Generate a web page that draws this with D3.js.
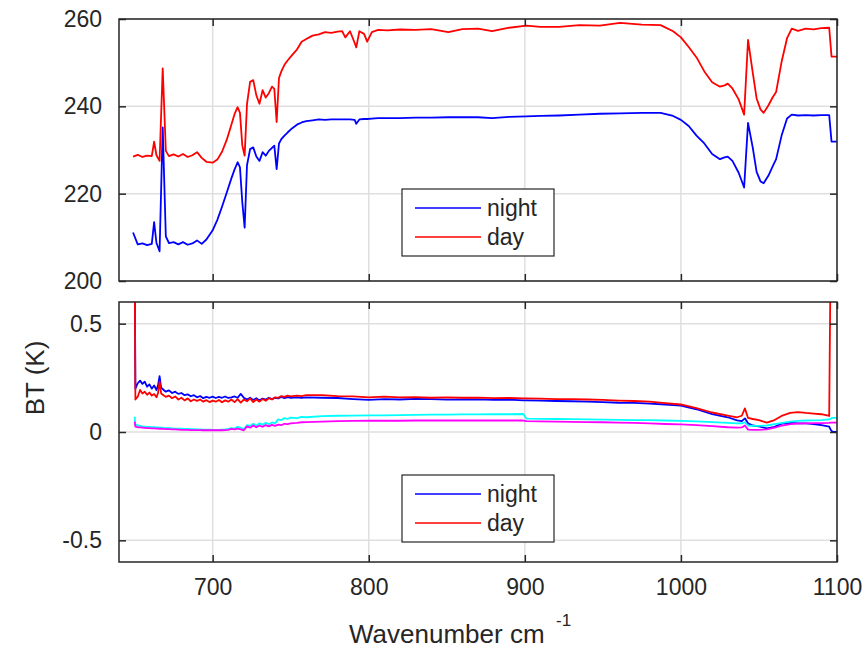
<!DOCTYPE html>
<html>
<head>
<meta charset="utf-8">
<script src="https://cdn.jsdelivr.net/npm/d3@7"></script>
<style>
  body { margin: 0; background: #fff; }
  text { font-family: "Liberation Sans", Arial, sans-serif; fill: #262626; }
</style>
</head>
<body>
<div id="chart"></div>
<script>
// wavenumbers for the brightness temperature panel
const topWn = [649, 652, 655, 658, 661, 662.5, 664, 666, 668, 670, 672, 675, 678, 681, 684, 687, 690, 693, 696, 700,
  703, 706, 709, 712, 714, 716, 717.5, 719, 720.5, 722, 724, 726, 728, 730, 732, 734, 736, 738, 739.5, 741,
  742.5, 744, 746, 748, 751, 754, 757, 760, 764, 768, 772, 776, 780, 783, 785, 788, 791, 792, 794, 797,
  799, 802, 806, 812, 820, 830, 840, 851, 860, 870, 879, 890, 901, 910, 922, 935, 948, 961, 975, 987,
  995, 1000, 1005, 1010, 1015, 1020, 1025, 1028, 1030, 1033, 1037, 1040.5, 1043, 1046, 1048.5, 1051, 1053, 1056, 1059, 1061,
  1064.5, 1068, 1071, 1075, 1080, 1085, 1090, 1095, 1096.5, 1100];

const nightTop = [211.1, 208.4, 208.6, 208.2, 208.5, 213.5, 208.7, 206.8, 235.2, 210.2, 208.7, 208.9, 208.4, 208.9, 208.3, 208.6, 209.3, 208.5, 209.5, 211.6,
  214.0, 217.0, 220.2, 223.5, 225.5, 227.2, 226.0, 218.0, 212.2, 226.5, 230.2, 230.6, 228.5, 227.5, 229.5, 228.7, 229.8, 230.5, 231.0, 225.6,
  231.5, 232.5, 233.3, 234.0, 235.0, 235.8, 236.3, 236.6, 236.8, 237.0, 236.9, 237.0, 237.0, 237.0, 237.0, 237.0, 236.9, 236.0, 237.0, 237.1,
  237.1, 237.2, 237.3, 237.3, 237.3, 237.4, 237.4, 237.5, 237.5, 237.5, 237.3, 237.6, 237.7, 237.8, 237.9, 238.1, 238.3, 238.4, 238.5, 238.5,
  237.8, 236.9, 235.5, 233.3, 231.5, 229.1, 227.9, 228.3, 228.5, 227.5, 224.8, 221.4, 236.2, 230.6, 225.0, 222.8, 222.4, 224.1, 226.4, 227.9,
  233.3, 237.2, 238.1, 237.9, 238.0, 237.9, 238.0, 238.0, 231.9, 231.9];

const dayTop = [228.5, 228.9, 228.4, 228.7, 228.6, 231.9, 228.8, 227.5, 248.7, 229.8, 228.6, 229.0, 228.5, 229.1, 228.4, 228.8, 229.5, 228.2, 227.3, 227.1,
  227.8, 229.6, 232.3, 235.8, 238.2, 239.8, 238.5, 231.0, 228.7, 240.5, 245.6, 246.0, 242.5, 240.6, 243.7, 242.0, 243.0, 244.5, 244.0, 236.4,
  246.5, 248.0, 249.5, 250.5, 251.8, 253.0, 254.8, 255.4, 256.2, 256.5, 257.0, 256.8, 257.1, 257.2, 255.8, 257.2, 254.5, 253.5, 257.2, 256.6,
  254.8, 257.0, 257.5, 257.4, 257.6, 257.5, 257.7, 257.0, 257.7, 257.8, 257.2, 258.0, 258.5, 258.2, 258.2, 258.6, 258.5, 259.1, 258.7, 258.6,
  257.2, 255.8, 253.6, 251.2, 248.0, 245.5, 244.5, 244.8, 245.2, 244.1, 241.6, 238.1, 255.2, 247.8, 241.8, 239.3, 238.5, 240.2, 242.2, 243.3,
  250.2, 255.6, 257.8, 257.3, 257.8, 257.6, 257.9, 258.0, 251.4, 251.4];

// wavenumbers for the difference panel
const botWn = [650, 650.5, 652, 653.5, 655, 656.5, 658, 659.5, 661, 662.5, 664, 665, 666, 667, 668.5, 670, 672, 674, 676, 678,
  680, 682, 684, 686, 688, 690, 692, 694, 696, 698, 700, 702, 704, 706, 708, 710, 712, 714, 716, 718,
  720, 722, 724, 726, 728, 730, 732, 734, 736, 738, 740, 742, 744, 746, 748, 750, 754, 757, 760,
  770, 780, 790, 800, 810, 820, 830, 840, 850, 860, 870, 880, 890, 899, 901, 910, 920, 930, 940, 950,
  960, 970, 980, 990, 1000, 1010, 1020, 1030, 1036, 1039, 1041, 1043, 1046, 1050, 1055, 1060, 1065, 1070, 1075, 1080,
  1085, 1090, 1095, 1096, 1097, 1099, 1100];

const nightBot = [0.9, 0.20, 0.225, 0.237, 0.222, 0.232, 0.209, 0.220, 0.200, 0.215, 0.194, 0.215, 0.258, 0.205, 0.195, 0.186, 0.192, 0.180, 0.186, 0.176,
  0.180, 0.170, 0.174, 0.165, 0.170, 0.160, 0.166, 0.156, 0.162, 0.158, 0.163, 0.157, 0.162, 0.158, 0.164, 0.157, 0.160, 0.164, 0.158, 0.176,
  0.158, 0.150, 0.158, 0.148, 0.156, 0.146, 0.154, 0.150, 0.158, 0.152, 0.158, 0.155, 0.162, 0.156, 0.161, 0.158, 0.160, 0.157, 0.160,
  0.158, 0.157, 0.152, 0.148, 0.152, 0.150, 0.153, 0.152, 0.149, 0.150, 0.151, 0.148, 0.149, 0.146, 0.146, 0.145, 0.143, 0.142, 0.140, 0.138,
  0.135, 0.134, 0.131, 0.127, 0.122, 0.105, 0.083, 0.068, 0.054, 0.050, 0.063, 0.040, 0.030, 0.026, 0.017, 0.024, 0.040, 0.042, 0.040, 0.040,
  0.036, 0.032, 0.025, 0.010, 0.002, 0.0, 0.0];

const dayBot = [0.9, 0.150, 0.163, 0.194, 0.178, 0.186, 0.172, 0.182, 0.168, 0.175, 0.160, 0.180, 0.232, 0.178, 0.170, 0.162, 0.168, 0.156, 0.164, 0.150,
  0.158, 0.146, 0.155, 0.142, 0.150, 0.144, 0.150, 0.140, 0.147, 0.138, 0.145, 0.140, 0.148, 0.137, 0.146, 0.140, 0.150, 0.138, 0.152, 0.136,
  0.150, 0.142, 0.155, 0.138, 0.150, 0.140, 0.152, 0.144, 0.156, 0.150, 0.160, 0.158, 0.166, 0.162, 0.168, 0.164, 0.168, 0.166, 0.170,
  0.170, 0.166, 0.164, 0.160, 0.163, 0.160, 0.161, 0.158, 0.160, 0.158, 0.159, 0.156, 0.157, 0.155, 0.155, 0.154, 0.152, 0.152, 0.150, 0.148,
  0.145, 0.143, 0.140, 0.133, 0.127, 0.110, 0.090, 0.076, 0.068, 0.075, 0.109, 0.065, 0.060, 0.055, 0.043, 0.055, 0.076, 0.088, 0.092, 0.088,
  0.085, 0.082, 0.074, 0.9, 0.9, 0.9, 0.9];

const cyanBot = [0.071, 0.035, 0.030, 0.028, 0.026, 0.025, 0.024, 0.023, 0.022, 0.022, 0.021, 0.021, 0.020, 0.020, 0.019, 0.018, 0.018, 0.017, 0.016, 0.016,
  0.015, 0.014, 0.014, 0.013, 0.013, 0.012, 0.012, 0.011, 0.011, 0.011, 0.010, 0.010, 0.010, 0.011, 0.012, 0.014, 0.018, 0.016, 0.024, 0.020,
  0.012, 0.032, 0.028, 0.038, 0.030, 0.040, 0.034, 0.042, 0.036, 0.044, 0.040, 0.058, 0.055, 0.064, 0.060, 0.066, 0.064, 0.070, 0.068,
  0.073, 0.075, 0.076, 0.077, 0.077, 0.078, 0.079, 0.080, 0.080, 0.081, 0.081, 0.082, 0.082, 0.083, 0.062, 0.061, 0.060, 0.059, 0.058, 0.057,
  0.056, 0.055, 0.055, 0.053, 0.051, 0.049, 0.046, 0.042, 0.040, 0.040, 0.045, 0.030, 0.028, 0.028, 0.030, 0.036, 0.042, 0.048, 0.051, 0.053,
  0.054, 0.055, 0.058, 0.062, 0.065, 0.065, 0.065];

const magentaBot = [0.048, 0.025, 0.022, 0.021, 0.020, 0.019, 0.018, 0.018, 0.017, 0.017, 0.016, 0.016, 0.015, 0.015, 0.014, 0.013, 0.013, 0.012, 0.012, 0.011,
  0.010, 0.010, 0.010, 0.009, 0.009, 0.009, 0.009, 0.008, 0.008, 0.008, 0.008, 0.008, 0.008, 0.008, 0.009, 0.010, 0.014, 0.012, 0.016, 0.012,
  0.008, 0.026, 0.020, 0.030, 0.022, 0.030, 0.024, 0.032, 0.026, 0.033, 0.028, 0.034, 0.032, 0.038, 0.036, 0.040, 0.042, 0.045, 0.046,
  0.048, 0.050, 0.051, 0.052, 0.052, 0.052, 0.053, 0.053, 0.053, 0.053, 0.053, 0.053, 0.053, 0.053, 0.050, 0.049, 0.048, 0.047, 0.046, 0.045,
  0.043, 0.042, 0.040, 0.037, 0.035, 0.032, 0.027, 0.022, 0.020, 0.021, 0.030, 0.011, 0.010, 0.010, 0.012, 0.020, 0.030, 0.036, 0.039, 0.040,
  0.041, 0.041, 0.042, 0.043, 0.043, 0.043, 0.043];

const xTicks = [700, 800, 900, 1000, 1100];
const topTicks = [200, 220, 240, 260];
const botTicks = [-0.5, 0, 0.5];
const legendNames = ["night", "day"];

const w = 868, h = 650;
const left = 119, right = 837;
const tickFont = "23px";

const svg = d3.select("#chart").append("svg")
  .attr("width", w).attr("height", h);

const x = d3.scaleLinear().domain([640, 1100]).range([left, right]);
const yTop = d3.scaleLinear().domain([200, 260]).range([281, 19]);
const yBot = d3.scaleLinear().domain([-0.6, 0.6]).range([562, 302]);

function panel(id, y, yticks, showX, fmt, series) {
  const [y0, y1] = y.range();
  const g = svg.append("g");

  g.append("clipPath").attr("id", id)
    .append("rect").attr("x", left).attr("y", y1).attr("width", right - left).attr("height", y0 - y1);

  // grid
  g.selectAll(".gx").data(xTicks).enter().append("line")
    .attr("x1", d => x(d)).attr("x2", d => x(d)).attr("y1", y0).attr("y2", y1)
    .attr("stroke", "#dfdfdf").attr("stroke-width", 1.5);
  g.selectAll(".gy").data(yticks).enter().append("line")
    .attr("x1", left).attr("x2", right).attr("y1", d => y(d)).attr("y2", d => y(d))
    .attr("stroke", "#dfdfdf").attr("stroke-width", 1.5);

  // data
  const lines = g.append("g").attr("clip-path", `url(#${id})`);
  series.forEach(s => {
    const line = d3.line().x((d, i) => x(s.wn[i])).y(d => y(d));
    lines.append("path").datum(s.v)
      .attr("d", line).attr("fill", "none")
      .attr("stroke", s.color).attr("stroke-width", 1.8)
      .attr("stroke-linejoin", "round");
  });

  // axes with inward ticks, MATLAB box style
  const bottom = g.append("g").attr("transform", `translate(0,${y0})`)
    .call(d3.axisBottom(x).tickValues(xTicks).tickSizeInner(-7).tickSizeOuter(0).tickPadding(17)
      .tickFormat(showX ? d3.format("d") : ""));
  const topAx = g.append("g").attr("transform", `translate(0,${y1})`)
    .call(d3.axisTop(x).tickValues(xTicks).tickSizeInner(-7).tickSizeOuter(0).tickFormat(""));
  const leftAx = g.append("g").attr("transform", `translate(${left},0)`)
    .call(d3.axisLeft(y).tickValues(yticks).tickSizeInner(-7).tickSizeOuter(0).tickPadding(17).tickFormat(fmt));
  const rightAx = g.append("g").attr("transform", `translate(${right},0)`)
    .call(d3.axisRight(y).tickValues(yticks).tickSizeInner(-7).tickSizeOuter(0).tickFormat(""));
  [bottom, topAx, leftAx, rightAx].forEach(a => {
    a.select(".domain").remove();
    a.selectAll("line").attr("stroke", "#262626").attr("stroke-width", 1.5);
    a.selectAll("text").style("font-size", tickFont).attr("fill", "#262626");
  });

  g.append("rect").attr("x", left).attr("y", y1).attr("width", right - left).attr("height", y0 - y1)
    .attr("fill", "none").attr("stroke", "#262626").attr("stroke-width", 1.5);
}

panel("clipTop", yTop, topTicks, false, d3.format("d"), [
  { wn: topWn, v: nightTop, color: "#0000ff" },
  { wn: topWn, v: dayTop, color: "#ff0000" }
]);

panel("clipBot", yBot, botTicks, true, d => d === 0 ? "0" : (d < 0 ? "-" : "") + Math.abs(d).toFixed(1), [
  { wn: botWn, v: nightBot, color: "#0000ff" },
  { wn: botWn, v: dayBot, color: "#ff0000" },
  { wn: botWn, v: cyanBot, color: "#00ffff" },
  { wn: botWn, v: magentaBot, color: "#ff00ff" }
]);

function legend(top) {
  const g = svg.append("g").attr("transform", `translate(402,${top})`);
  g.append("rect").attr("width", 152).attr("height", 67)
    .attr("fill", "#fff").attr("stroke", "#262626").attr("stroke-width", 1.2);
  const colors = ["#0000ff", "#ff0000"];
  legendNames.forEach((n, i) => {
    const yy = 19 + i * 29;
    g.append("line").attr("x1", 13).attr("x2", 79).attr("y1", yy).attr("y2", yy)
      .attr("stroke", colors[i]).attr("stroke-width", 1.5);
    g.append("text").attr("x", 85).attr("y", yy).attr("dy", "0.35em")
      .style("font-size", "23px").text(n);
  });
}
legend(189);
legend(475);

svg.append("text").attr("x", 349).attr("y", 643)
  .style("font-size", "26px").text("Wavenumber cm");
svg.append("text").attr("x", 556).attr("y", 626)
  .style("font-size", "17px").text("-1");

svg.append("text").attr("transform", "translate(44,378) rotate(-90)")
  .attr("text-anchor", "middle").style("font-size", "26px").text("BT (K)");
</script>
</body>
</html>
